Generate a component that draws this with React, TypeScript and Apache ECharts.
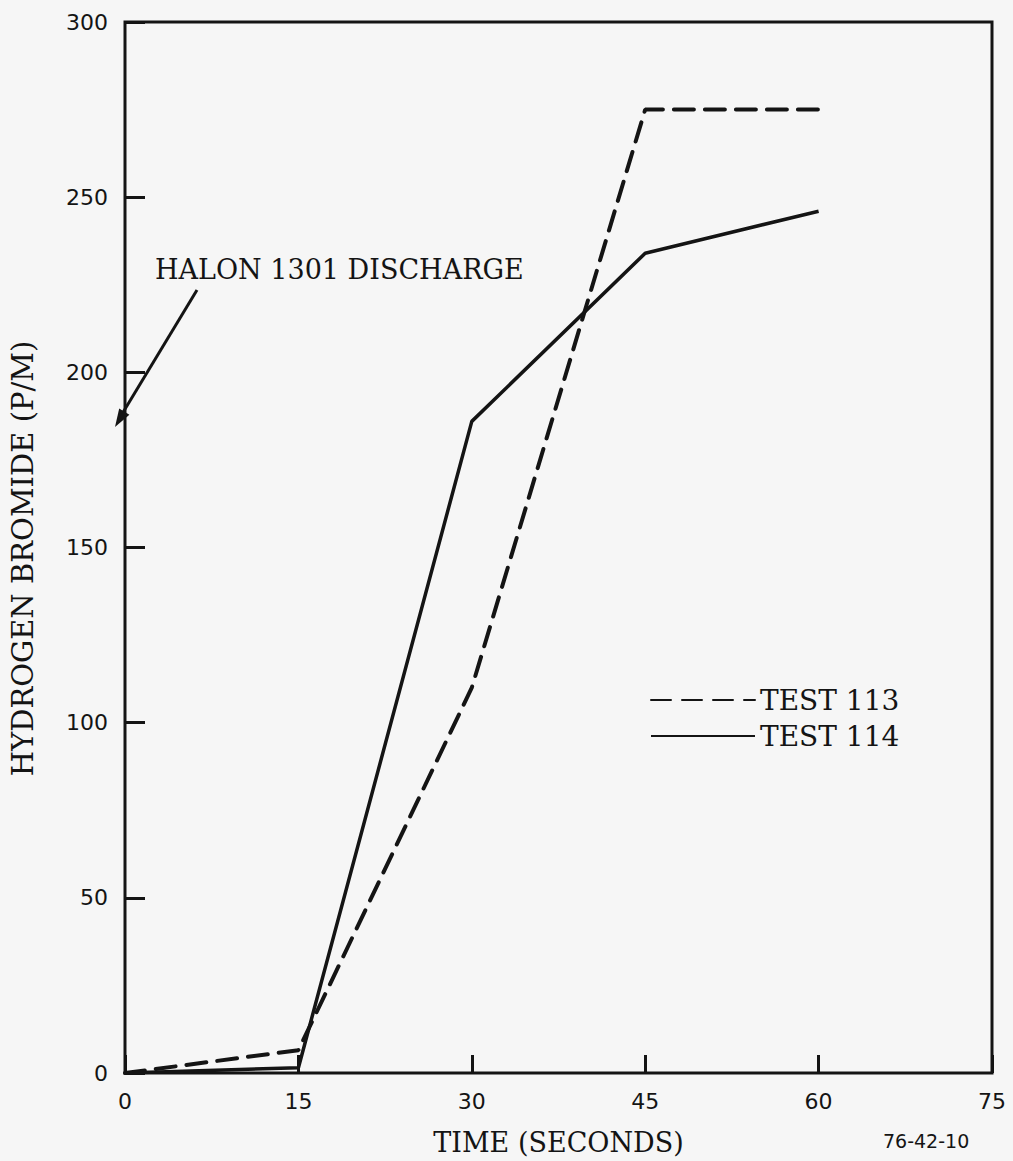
import React, { useEffect, useRef } from "react";
import * as echarts from "echarts";

const xTicks = [0, 15, 30, 45, 60, 75];
const yTicks = [0, 50, 100, 150, 200, 250, 300];
const seriesNames = ["TEST 113", "TEST 114"];
const test113: [number, number][] = [
  [0, 0],
  [15, 6.5],
  [30, 110],
  [45, 275],
  [60, 275],
];
const test114: [number, number][] = [
  [0, 0],
  [15, 1.5],
  [30, 186],
  [45, 234],
  [60, 246],
];
const xTitle = "TIME (SECONDS)";
const yTitle = "HYDROGEN BROMIDE (P/M)";
const annotation = "HALON 1301 DISCHARGE";
const figureId = "76-42-10";

const INK = "#141414";
const SERIF = "'DejaVu Serif', 'Liberation Serif', serif";
const SANS = "'DejaVu Sans', 'Liberation Sans', sans-serif";

export default function App() {
  const ref = useRef<HTMLDivElement>(null);
  useEffect(() => {
    if (!ref.current) return;
    const chart = echarts.init(ref.current, undefined, { renderer: "svg" });
    chart.setOption({
      animation: false,
      backgroundColor: "#f6f6f6",
      grid: {
        left: 110,
        right: 21,
        top: 22,
        bottom: 79,
        show: true,
        borderColor: INK,
        borderWidth: 3,
        backgroundColor: "transparent",
      },
      legend: {
        orient: "vertical",
        left: 645,
        top: 681,
        itemWidth: 104,
        itemHeight: 6,
        itemGap: 8,
        data: seriesNames,
        itemStyle: { opacity: 0 },
        textStyle: { fontFamily: SERIF, fontSize: 28, color: INK },
      },
      xAxis: {
        type: "value",
        min: xTicks[0],
        max: xTicks[xTicks.length - 1],
        interval: 15,
        name: xTitle,
        nameLocation: "middle",
        nameGap: 56,
        nameTextStyle: { fontFamily: SERIF, fontSize: 27, color: INK },
        axisLine: { show: false },
        axisTick: { show: true, inside: true, length: 18, lineStyle: { color: INK, width: 3 } },
        axisLabel: { fontFamily: SANS, fontSize: 22, color: INK, margin: 17 },
        splitLine: { show: false },
      },
      yAxis: {
        type: "value",
        min: yTicks[0],
        max: yTicks[yTicks.length - 1],
        interval: 50,
        name: yTitle,
        nameLocation: "middle",
        nameGap: 88,
        nameRotate: 90,
        nameTextStyle: { fontFamily: SERIF, fontSize: 29, color: INK, padding: [0, 22, 0, 0] },
        axisLine: { show: false },
        axisTick: { show: true, inside: true, length: 20, lineStyle: { color: INK, width: 3 } },
        axisLabel: { fontFamily: SANS, fontSize: 22, color: INK, margin: 17 },
        splitLine: { show: false },
      },
      series: [
        {
          name: seriesNames[0],
          type: "line",
          data: test113,
          symbol: "none",
          lineStyle: { color: INK, width: 4, type: [20, 11], cap: "round" },
          itemStyle: { color: INK },
        },
        {
          name: seriesNames[1],
          type: "line",
          data: test114,
          symbol: "none",
          lineStyle: { color: INK, width: 3.5, type: "solid" },
          itemStyle: { color: INK },
        },
      ],
      graphic: [
        {
          type: "text",
          left: 155,
          top: 256,
          style: { text: annotation, font: `27px ${SERIF}`, fill: INK },
        },
        {
          type: "line",
          shape: { x1: 197, y1: 290, x2: 119, y2: 419 },
          style: { stroke: INK, lineWidth: 3 },
        },
        {
          type: "polygon",
          shape: { points: [[115, 427], [129.4, 414.7], [119.2, 408.5]] },
          style: { fill: INK },
        },
        {
          type: "text",
          left: 883,
          top: 1131,
          style: { text: figureId, font: `19px ${SANS}`, fill: INK },
        },
      ],
    });
    return () => chart.dispose();
  }, []);
  return (
    <div
      ref={ref}
      style={{ position: "absolute", left: 0, top: 0, width: 1013, height: 1161 }}
    />
  );
}
